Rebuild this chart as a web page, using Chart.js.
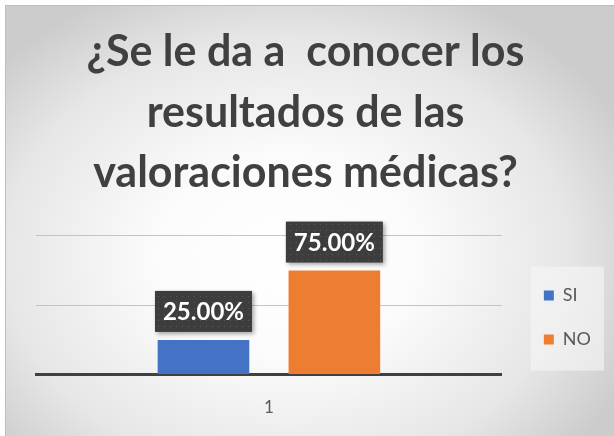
<html>
<head>
	<title>Valoraciones medicas</title>
	<style>
		html, body {
			margin: 0;
			padding: 0;
			width: 614px;
			height: 436px;
			background: #ffffff;
			overflow: hidden;
		}

		#frame {
			position: absolute;
			left: 5px;
			top: 5px;
			width: 609px;
			height: 431px;
			border-left: 1px solid #bdbdbd;
			border-top: 1px solid #bdbdbd;
			background: radial-gradient(ellipse 62% 68% at 46% 58%, #ffffff 0%, #fbfbfb 35%, #e6e6e6 75%, #cccccc 100%);
		}

		#app {
			position: absolute;
			left: 0;
			top: 0;
			width: 614px;
			height: 436px;
		}
	</style>
</head>
<body>

	<div id="frame"></div>
	<div id="app">
		<canvas id="valcanvas"></canvas>
	</div>

	<script src="https://cdn.jsdelivr.net/npm/chart.js@4.4.1/dist/chart.umd.min.js"></script>
	<script>
		// data
		var categories = ['1'];
		var seriesNames = ['SI', 'NO'];
		var siValues = [0.25];
		var noValues = [0.75];
		var seriesColors = ['#4472C4', '#ED7D31'];
		var titleLines = ['¿Se le da a  conocer los', 'resultados de las', 'valoraciones médicas?'];

		// dark dotted pattern for the value boxes
		var makePattern = function(ctx) {
			var p = document.createElement('canvas');
			p.width = 6;
			p.height = 6;
			var pc = p.getContext('2d');
			pc.fillStyle = '#3d3d3d';
			pc.fillRect(0, 0, 6, 6);
			pc.fillStyle = '#5a5a5a';
			pc.fillRect(2, 2, 1, 1);
			return ctx.createPattern(p, 'repeat');
		};

		// faint panel behind the legend, like the office chart
		var legendBack = {
			id: 'legendBack',
			beforeDraw: function(chart) {
				var hb = chart.legend.legendHitBoxes;
				if (!hb || !hb.length) return;
				var ctx = chart.ctx;
				var last = hb[hb.length - 1];
				var x0 = hb[0].left - 13;
				var y0 = hb[0].top - 20;
				ctx.save();
				ctx.fillStyle = 'rgba(246,246,246,0.6)';
				ctx.fillRect(x0, y0, 604 - x0, last.top + last.height + 22 - y0);
				ctx.restore();
			}
		};

		var valueBoxes = {
			id: 'valueBoxes',
			afterDatasetsDraw: function(chart) {
				var ctx = chart.ctx;
				var pat = makePattern(ctx);
				ctx.save();
				ctx.font = 'bold 24px Lato';
				ctx.textAlign = 'center';
				ctx.textBaseline = 'middle';
				chart.data.datasets.forEach(function(ds, i) {
					var meta = chart.getDatasetMeta(i);
					meta.data.forEach(function(bar, j) {
						var txt = (ds.data[j] * 100).toFixed(2) + '%';
						var w = 97, h = 41;
						var x = bar.x - w / 2;
						var y = bar.y - 8 - h;
						ctx.shadowColor = 'rgba(0,0,0,0.35)';
						ctx.shadowBlur = 4;
						ctx.shadowOffsetX = 2;
						ctx.shadowOffsetY = 2;
						ctx.fillStyle = pat;
						ctx.fillRect(x, y, w, h);
						ctx.shadowColor = 'transparent';
						ctx.fillStyle = '#ffffff';
						ctx.fillText(txt, bar.x, y + h / 2 + 1);
					});
				});
				ctx.restore();
			}
		};

		var ctx = document.getElementById('valcanvas').getContext('2d');
		ctx.canvas.width = 614;
		ctx.canvas.height = 436;

		var myChart = new Chart(ctx, {
			type: 'bar',
			data: {
				labels: categories,
				datasets: [
					{ label: seriesNames[0], data: siValues, backgroundColor: seriesColors[0] },
					{ label: seriesNames[1], data: noValues, backgroundColor: seriesColors[1] }
				]
			},
			options: {
				responsive: false,
				animation: false,
				layout: { padding: { top: 8, left: 10, right: 13, bottom: 3 } },
				datasets: { bar: { categoryPercentage: 0.562, barPercentage: 0.70 } },
				plugins: {
					title: {
						display: true,
						text: titleLines,
						color: '#404040',
						font: { family: 'Lato', weight: 'bold', size: 43, lineHeight: 1.41 },
						padding: { top: 14, bottom: 32 }
					},
					legend: {
						position: 'right',
						fullSize: false,
						align: 'end',
						labels: {
							boxWidth: 10,
							boxHeight: 10,
							padding: 26,
							color: '#595959',
							font: { family: 'Lato', size: 18 }
						}
					},
					tooltip: { enabled: false }
				},
				scales: {
					x: {
						grid: { display: false },
						border: { color: '#404040', width: 3 },
						ticks: { color: '#595959', padding: 15, font: { family: 'Lato', size: 17 } }
					},
					y: {
						min: 0,
						max: 1,
						ticks: { display: false, stepSize: 0.5 },
						grid: { color: '#c4c4c4', drawTicks: false },
						border: { display: false },
						afterFit: function(s) { s.width = 26; }
					},
					// empty spacer between plot and legend
					gap: {
						type: 'linear',
						position: 'right',
						ticks: { display: false },
						grid: { display: false },
						border: { display: false },
						afterFit: function(s) { s.width = 16; }
					}
				}
			},
			plugins: [legendBack, valueBoxes]
		});
	</script>
</body>
</html>
